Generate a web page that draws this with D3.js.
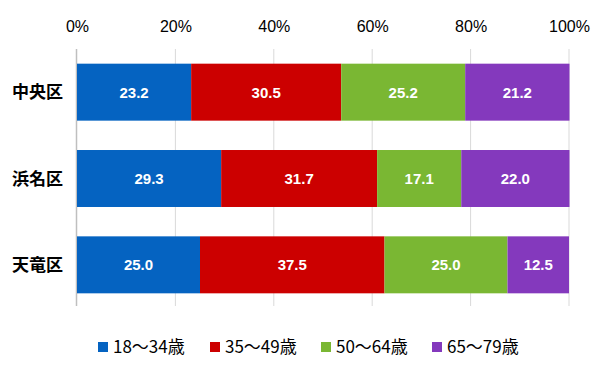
<!DOCTYPE html>
<html><head><meta charset="utf-8">
<script src="https://cdn.jsdelivr.net/npm/d3@7"></script>
<style>body{margin:0;background:#fff}svg{display:block}</style>
</head><body>
<script>
const categories = ["中央区","浜名区","天竜区"];
const seriesNames = ["18〜34歳","35〜49歳","50〜64歳","65〜79歳"];
const s1 = [23.2, 29.3, 25.0];
const s2 = [30.5, 31.7, 37.5];
const s3 = [25.2, 17.1, 25.0];
const s4 = [21.2, 22.0, 12.5];
const colors = ["#0563C1","#CC0000","#7AB733","#8439BD"];
const tickValues = [0,20,40,60,80,100];

const W=613,H=378;
const svg=d3.select("body").append("svg").attr("width",W).attr("height",H);
const font="'Noto Sans CJK JP','Noto Sans',sans-serif";
const latin="'Liberation Sans',Arial,sans-serif";
const x=d3.scaleLinear().domain([0,100]).range([77,569]);
const y=d3.scaleBand().domain(categories).range([49,308]).paddingInner(0.34).paddingOuter(0.17);

svg.append("g").selectAll("line").data(tickValues.slice(1)).join("line")
 .attr("x1",d=>x(d)).attr("x2",d=>x(d)).attr("y1",49).attr("y2",306)
 .attr("stroke","#d9d9d9").attr("stroke-width",1);
svg.append("line").attr("x1",76.5).attr("x2",76.5).attr("y1",49).attr("y2",306).attr("stroke","#bfbfbf").attr("stroke-width",1.5);

const axis=d3.axisTop(x).tickValues(tickValues).tickFormat(d=>d+"%").tickSize(0);
const ag=svg.append("g").attr("transform","translate(0,35)").call(axis);
ag.select(".domain").remove();
ag.selectAll("text").attr("font-family",latin).attr("font-size",16).attr("fill","#000").attr("dy",0);

const series=[s1,s2,s3,s4];
const rows=categories.map((c,i)=>{const o={cat:c};series.forEach((s,j)=>o["k"+j]=s[i]);return o;});
const stack=d3.stack().keys(series.map((s,j)=>"k"+j))(rows);
stack.forEach((layer,j)=>{
 const g=svg.append("g");
 g.selectAll("rect").data(layer).join("rect")
  .attr("x",d=>x(d[0])).attr("width",d=>x(d[1])-x(d[0]))
  .attr("y",d=>y(d.data.cat)).attr("height",y.bandwidth())
  .attr("fill",colors[j]);
 g.selectAll("text").data(layer).join("text")
  .attr("x",d=>(x(d[0])+x(d[1]))/2).attr("y",d=>y(d.data.cat)+y.bandwidth()/2)
  .attr("dy","0.36em").attr("text-anchor","middle").attr("fill","#fff")
  .attr("font-weight","bold").attr("font-size",15).attr("font-family",latin)
  .text(d=>(d[1]-d[0]).toFixed(1));
});

svg.append("g").selectAll("text").data(categories).join("text")
 .attr("x",63).attr("y",d=>y(d)+y.bandwidth()/2).attr("dy","0.36em")
 .attr("text-anchor","end").attr("font-family",font).attr("font-size",17).attr("font-weight","bold").attr("fill","#000")
 .text(d=>d);

const legX=[98,210,321,432];
const lg=svg.append("g");
seriesNames.forEach((n,i)=>{
 lg.append("rect").attr("x",legX[i]).attr("y",342).attr("width",10).attr("height",10).attr("fill",colors[i]);
 lg.append("text").attr("x",legX[i]+15).attr("y",347).attr("dy","0.36em")
  .attr("font-family",font).attr("font-size",17).attr("fill","#000").text(n);
});
</script>
</body></html>
